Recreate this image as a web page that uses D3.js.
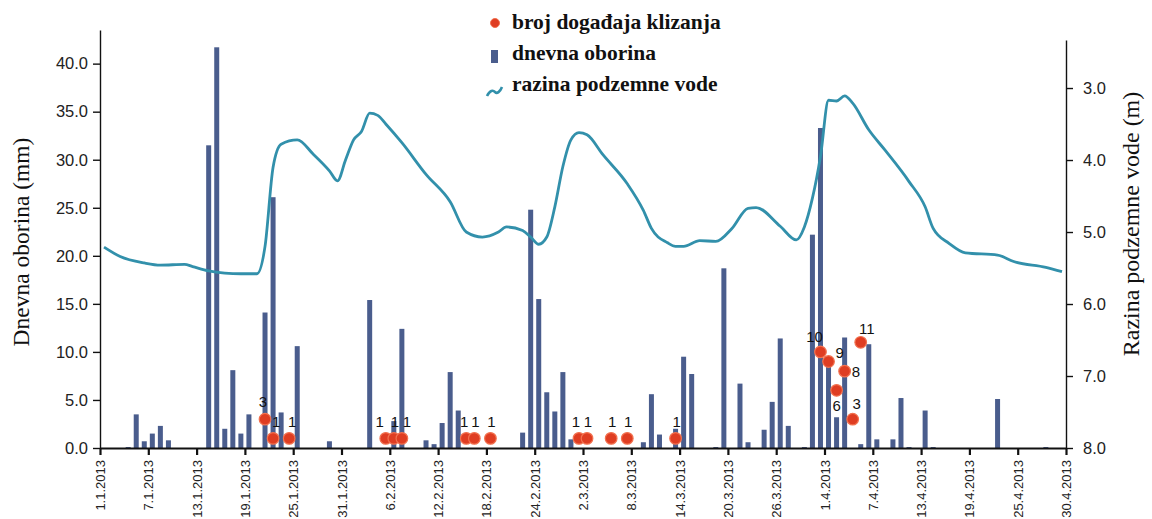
<!DOCTYPE html>
<html>
<head>
<meta charset="utf-8">
<script src="https://cdn.jsdelivr.net/npm/d3@7"></script>
<style>
  body { margin: 0; background: #fff; }
  svg { display: block; }
</style>
</head>
<body>
<script>
// day index: 0 = 1.1.2013 ... 119 = 30.4.2013

// daily rainfall (mm)
var rainDay = [3, 4, 5, 6, 7, 8, 13, 14, 15, 16, 17, 18, 20, 21, 22, 24, 28, 33, 36, 37,
  40, 41, 42, 43, 44, 52, 53, 54, 55, 56, 57, 58, 67, 68, 69, 71, 72, 73, 76, 77,
  79, 80, 82, 83, 84, 85, 87, 88, 89, 90, 91, 92, 94, 95, 96, 98, 99, 100, 102, 103, 111, 117];
var rainMm = [0.1, 3.5, 0.7, 1.5, 2.3, 0.8, 31.5, 41.7, 2.0, 8.1, 1.5, 3.5, 14.1, 26.1, 3.7, 10.6, 0.7, 15.4, 2.8, 12.4,
  0.8, 0.4, 2.6, 7.9, 3.9, 1.6, 24.8, 15.5, 5.8, 3.8, 7.9, 0.9, 0.6, 5.6, 1.4, 2.0, 9.5, 7.7, 0.1, 18.7,
  6.7, 0.6, 1.9, 4.8, 11.4, 2.3, 0.1, 22.2, 33.3, 9.0, 3.2, 11.5, 0.4, 10.8, 0.9, 0.9, 5.2, 0.1, 3.9, 0.1, 5.1, 0.1];

// groundwater level (m below surface)
var gwDay = [0, 2, 5, 7, 10, 11, 13, 15, 17, 19, 20, 21, 22, 24, 26, 28, 29, 30, 31, 32,
  33, 34, 35, 37, 40, 43, 45, 47, 49, 50, 52, 53, 54, 55, 56, 57, 58, 59, 60, 62,
  65, 67, 68, 70, 71, 72, 74, 76, 78, 80, 81, 84, 86, 87, 88, 89, 90, 91, 92, 93,
  95, 97, 100, 102, 103, 105, 107, 111, 113, 117, 119];
var gwLevel = [5.21, 5.34, 5.43, 5.46, 5.45, 5.48, 5.54, 5.57, 5.58, 5.58, 5.2, 4.1, 3.78, 3.72, 3.92, 4.15, 4.29, 4.0, 3.72, 3.6,
  3.35, 3.38, 3.5, 3.76, 4.2, 4.58, 5.0, 5.07, 5.0, 4.93, 4.98, 5.07, 5.17, 5.07, 4.65, 4.09, 3.72, 3.62, 3.65, 3.93,
  4.33, 4.7, 4.95, 5.15, 5.2, 5.2, 5.12, 5.13, 4.95, 4.67, 4.66, 4.92, 5.11, 4.93, 4.53, 3.95, 3.17, 3.18, 3.11, 3.21,
  3.58, 3.86, 4.3, 4.65, 4.95, 5.16, 5.29, 5.32, 5.41, 5.49, 5.55];

// landslide events
var eventDay = [20, 21, 23, 35, 36, 37, 45, 46, 48, 59, 60, 63, 65, 71, 89, 90, 91, 92, 93, 94];
var eventCount = [3, 1, 1, 1, 1, 1, 1, 1, 1, 1, 1, 1, 1, 1, 10, 9, 6, 8, 3, 11];

var xTickDay = [0, 6, 12, 18, 24, 30, 36, 42, 48, 54, 60, 66, 72, 78, 84, 90, 96, 102, 108, 114, 120];
var xTickLabels = ["1.1.2013", "7.1.2013", "13.1.2013", "19.1.2013", "25.1.2013", "31.1.2013", "6.2.2013",
  "12.2.2013", "18.2.2013", "24.2.2013", "2.3.2013", "8.3.2013", "14.3.2013", "20.3.2013", "26.3.2013",
  "1.4.2013", "7.4.2013", "13.4.2013", "19.4.2013", "25.4.2013", "30.4.2013"];
var rainTicks = [0, 5, 10, 15, 20, 25, 30, 35, 40];
var gwTicks = [3, 4, 5, 6, 7, 8];

var legendLabels = ["broj događaja klizanja", "dnevna oborina", "razina podzemne vode"];

var barColor = "#4a5d8d", lineColor = "#3290ab", dotColor = "#df3d22";
var sansFont = "'Liberation Sans', Arial, sans-serif";
var serifFont = "'Liberation Serif', 'Times New Roman', serif";

var svg = d3.select("body").append("svg")
  .attr("width", 1152)
  .attr("height", 519);

var x = d3.scaleLinear().domain([0, 120]).range([100, 1066]);
var yRain = d3.scaleLinear().domain([0, 43.5]).range([448, 30]);
var yGw = d3.scaleLinear().domain([8, 2.333]).range([448, 40]);

// bars
var rain = rainDay.map(function(d, i){ return {day: d, mm: rainMm[i]}; });
svg.append("g").selectAll("rect")
  .data(rain)
  .enter().append("rect")
  .attr("x", function(d){ return x(d.day + 0.5) - 2.5; })
  .attr("width", 5)
  .attr("y", function(d){ return yRain(d.mm); })
  .attr("height", function(d){ return yRain(0) - yRain(d.mm); })
  .style("fill", barColor);

// groundwater line
var gw = gwDay.map(function(d, i){ return {day: d, level: gwLevel[i]}; });
var line = d3.line()
  .x(function(d){ return x(d.day + 0.5); })
  .y(function(d){ return yGw(d.level); })
  .curve(d3.curveMonotoneX);
svg.append("path")
  .datum(gw)
  .attr("d", line)
  .style("fill", "none")
  .style("stroke", lineColor)
  .style("stroke-width", 2.8)
  .style("stroke-linejoin", "round");

// axes
var xAxis = svg.append("g")
  .attr("transform", "translate(0,448)")
  .call(d3.axisBottom(x).tickValues(xTickDay)
    .tickFormat(function(d, i){ return xTickLabels[i]; })
    .tickSize(7).tickSizeOuter(0));
xAxis.selectAll("text")
  .attr("transform", "rotate(-90)")
  .attr("x", -12)
  .attr("y", 0)
  .attr("dy", "0.35em")
  .style("text-anchor", "end")
  .style("font-size", "13px");

var leftAxis = svg.append("g")
  .attr("transform", "translate(100,0)")
  .call(d3.axisLeft(yRain).tickValues(rainTicks).tickFormat(d3.format(".1f"))
    .tickSize(7).tickPadding(5).tickSizeOuter(0));
leftAxis.selectAll("text").style("font-size", "16.5px");

var rightAxis = svg.append("g")
  .attr("transform", "translate(1066,0)")
  .call(d3.axisRight(yGw).tickValues(gwTicks).tickFormat(d3.format(".1f"))
    .tickSize(7).tickPadding(10).tickSizeOuter(0));
rightAxis.selectAll("text").style("font-size", "16.5px");

svg.selectAll(".domain, .tick line").style("stroke", "#111").style("stroke-width", 1.4);
xAxis.selectAll(".domain, .tick line").style("stroke-width", 2.2);
svg.selectAll(".tick text").style("font-family", sansFont).style("fill", "#222");

// landslide events
var events = eventDay.map(function(d, i){ return {day: d, n: eventCount[i]}; });
svg.append("g").selectAll("circle")
  .data(events)
  .enter().append("circle")
  .attr("cx", function(d){ return x(d.day + 0.5); })
  .attr("cy", function(d){ return yRain(d.n); })
  .attr("r", 5.8)
  .style("fill", dotColor)
  .style("stroke", "#f2714f")
  .style("stroke-width", 1.2);

// label placement where the labels would collide
var labelPos = {
  20: [-2, -12, "middle"], 21: [3, -11, "middle"], 23: [3, -11, "middle"],
  35: [-6, -11, "middle"], 37: [5, -11, "middle"],
  45: [-2, -11, "middle"], 59: [-3, -11, "middle"],
  89: [-6, -10, "middle"], 90: [7, -4, "start"], 91: [0, 21, "middle"],
  92: [7, 6, "start"], 93: [4, -10, "middle"], 94: [6, -8, "middle"]
};
svg.append("g").selectAll("text")
  .data(events)
  .enter().append("text")
  .attr("x", function(d){ var p = labelPos[d.day]; return x(d.day + 0.5) + (p ? p[0] : 1); })
  .attr("y", function(d){ var p = labelPos[d.day]; return yRain(d.n) + (p ? p[1] : -11); })
  .style("text-anchor", function(d){ var p = labelPos[d.day]; return p ? p[2] : "middle"; })
  .style("font-family", sansFont)
  .style("font-size", "15px")
  .style("fill", "#111")
  .text(function(d){ return d.n; });

// axis titles
svg.append("text")
  .attr("transform", "translate(29,242) rotate(-90)")
  .style("text-anchor", "middle")
  .style("font-family", serifFont)
  .style("font-size", "23.5px")
  .style("fill", "#111")
  .text("Dnevna oborina (mm)");
svg.append("text")
  .attr("transform", "translate(1139,224) rotate(-90)")
  .style("text-anchor", "middle")
  .style("font-family", serifFont)
  .style("font-size", "24px")
  .style("fill", "#111")
  .text("Razina podzemne vode (m)");

// legend
var legend = svg.append("g").attr("transform", "translate(512,0)");
legend.append("circle").attr("cx", -17).attr("cy", 23).attr("r", 4.5)
  .style("fill", dotColor).style("stroke", "#f2714f");
legend.append("rect").attr("x", -21).attr("y", 50).attr("width", 7).attr("height", 13)
  .style("fill", barColor);
legend.append("path").attr("d", "M-25,96 C-22,90 -19,90 -17,92 C-15,94 -12,92 -10,87")
  .style("fill", "none").style("stroke", lineColor).style("stroke-width", 2.6);
legend.selectAll("text.leg")
  .data(legendLabels)
  .enter().append("text")
  .attr("class", "leg")
  .attr("x", 0)
  .attr("y", function(d, i){ return 29 + i * 31; })
  .style("font-family", serifFont)
  .style("font-weight", "bold")
  .style("font-size", "21.5px")
  .style("fill", "#111")
  .text(function(d){ return d; });
</script>
</body>
</html>
